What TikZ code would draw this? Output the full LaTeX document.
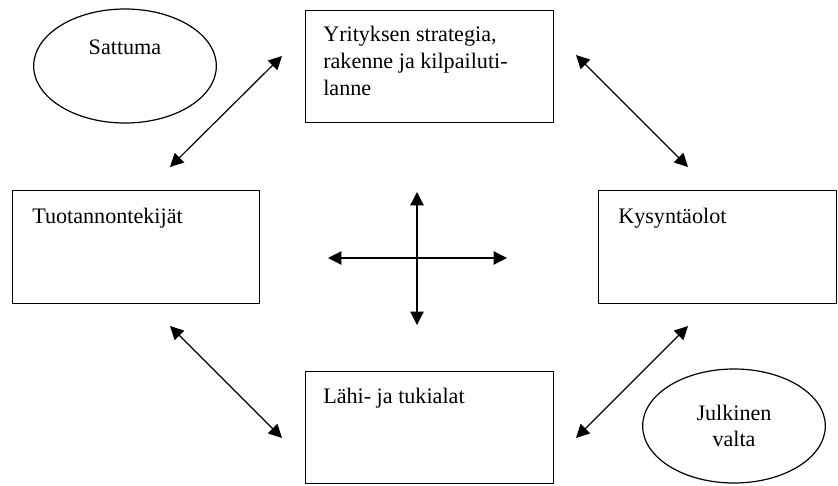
\documentclass[tikz,border=0pt]{standalone}
\usepackage{fontspec}
\setmainfont{Liberation Serif}
\usetikzlibrary{shapes.geometric,arrows.meta,positioning}

\begin{document}
\begin{tikzpicture}[
  x=0.75pt, y=-0.75pt,
  box/.style={rectangle, draw, line width=1.1pt, anchor=north west, inner sep=0pt},
  txt/.style={anchor=north west, align=left, inner sep=0pt, font=\fontsize{16.6}{20.25}\selectfont},
  oval/.style={ellipse, draw, line width=0.9pt, minimum width=137pt, minimum height=85.5pt,
    inner sep=0pt, align=center, font=\fontsize{16.6}{19}\selectfont},
  both/.style={{Triangle[length=10pt,width=10pt]}-{Triangle[length=10pt,width=10pt]}, line width=0.9pt},
]
\useasboundingbox (0,0) rectangle (838,485);

\node[box, minimum width=186pt, minimum height=84pt,
  label={[txt, xshift=13.5pt, yshift=-12pt]north west:Yrityksen strategia,\\rakenne ja kilpailuti-\\lanne}]
  (strategia) at (305,10) {};
\node[box, minimum width=185.25pt, minimum height=84.75pt,
  label={[txt, xshift=15pt, yshift=-13.5pt]north west:Tuotannontekijät}]
  (tuotanto) at (12,190) {};
\node[box, minimum width=178.5pt, minimum height=84.75pt,
  label={[txt, xshift=15pt, yshift=-13.5pt]north west:Kysyntäolot}]
  (kysynta) at (598,190) {};
\node[box, minimum width=186pt, minimum height=84pt,
  label={[txt, xshift=13.5pt, yshift=-13pt]north west:Lähi- ja tukialat}]
  (tukialat) at (305,371) {};

\node[oval, text height=11.5pt, text depth=28pt] (sattuma) at (125,66) {Sattuma};
\node[oval] (valta) at (734,426) {Julkinen\\valta};

% nuolten päät
\coordinate (a1) at (282,56);  \coordinate (b1) at (170,167);
\coordinate (a2) at (576,55);  \coordinate (b2) at (688,167);
\coordinate (a3) at (170,326); \coordinate (b3) at (282,438);
\coordinate (a4) at (688,326); \coordinate (b4) at (576,438);
\coordinate (hl) at (328,258); \coordinate (hr) at (507,258);
\coordinate (vt) at (417,192); \coordinate (vb) at (417,325);

\draw[both] (a1) -- (b1);
\draw[both] (a2) -- (b2);
\draw[both] (a3) -- (b3);
\draw[both] (a4) -- (b4);
\draw[both] (hl) -- (hr);
\draw[both] (vt) -- (vb);
\end{tikzpicture}
\end{document}
